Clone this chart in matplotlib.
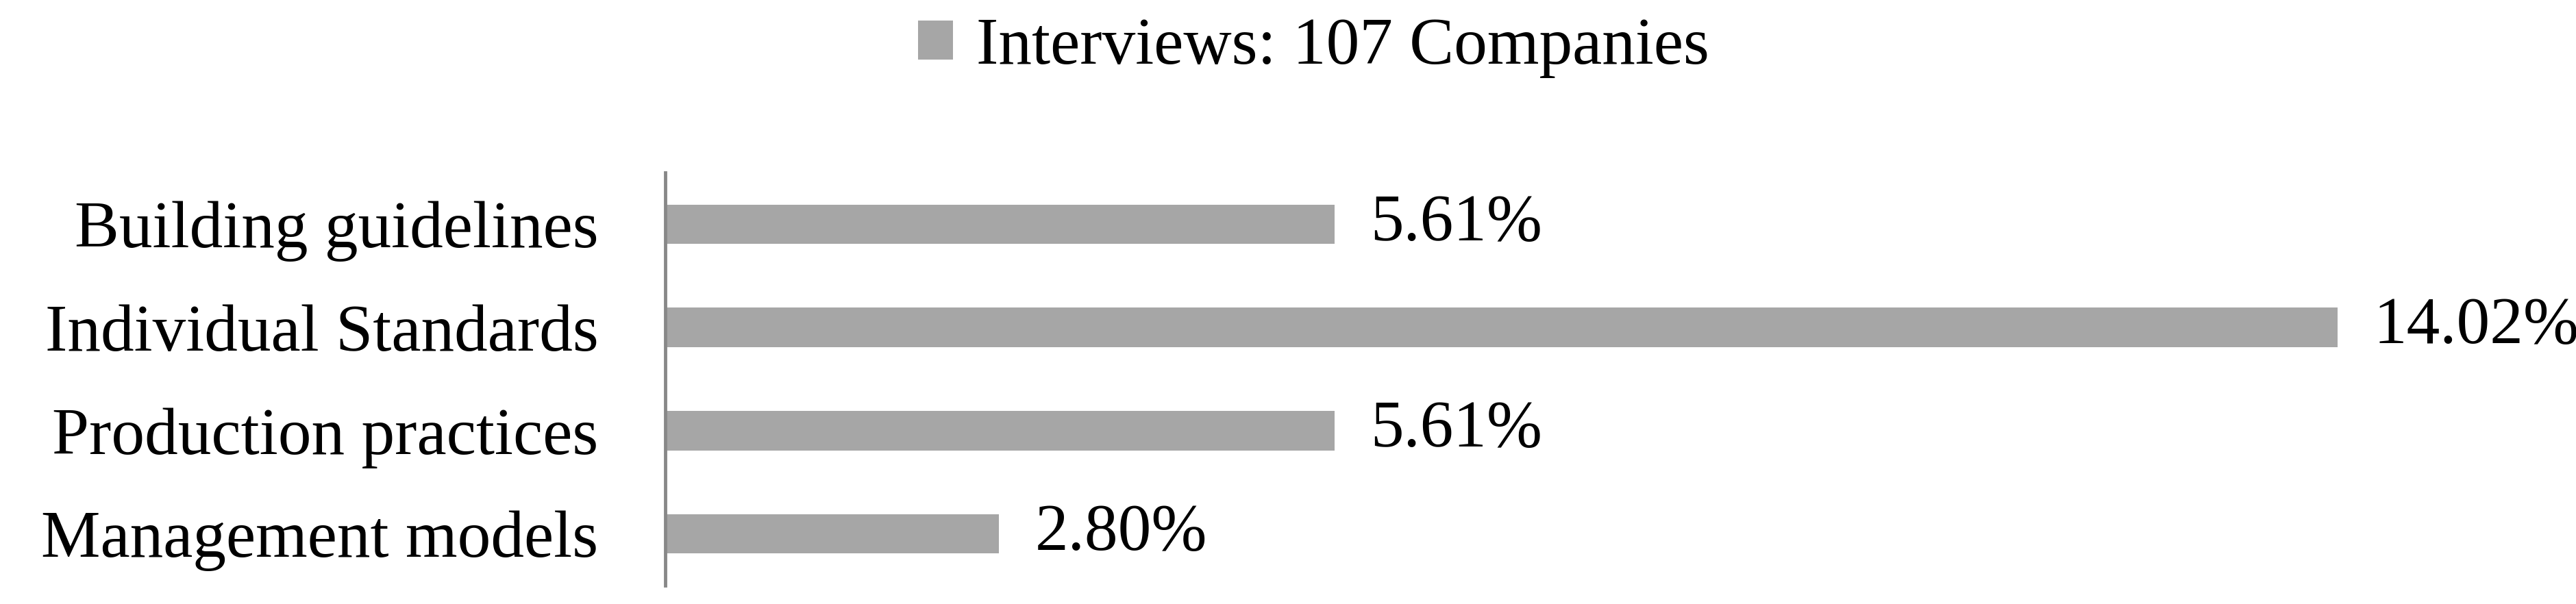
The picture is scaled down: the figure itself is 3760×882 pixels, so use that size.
import matplotlib
matplotlib.use("Agg")
import matplotlib.pyplot as plt

categories = ["Building guidelines", "Individual Standards", "Production practices", "Management models"]
values = [5.61, 14.02, 5.61, 2.80]
series_name = "Interviews: 107 Companies"

plt.rcParams["font.family"] = ["Liberation Serif", "DejaVu Serif"]
FS = 70
BAR = "#a6a6a6"

fig = plt.figure(figsize=(37.6, 8.82), dpi=100)
ax = fig.add_axes([0.2582, 0.0306, 0.931 - 0.2582, 0.6837])

y = list(range(len(categories)))
bars = ax.barh(y, values, height=0.38, color=BAR, label=series_name)
for v, yi in zip(values, y):
    ax.annotate(f"{v:.2f}%", (v, yi), xytext=(38, 0), textcoords="offset points",
                ha="left", va="center", fontsize=FS, color="black")

ax.set_ylim(3.5, -0.5)
ax.set_xlim(0, 14.53)
ax.set_yticks(y)
ax.set_yticklabels(categories, fontsize=FS)
ax.tick_params(axis="y", length=0, pad=70)
ax.set_xticks([])
for s in ["top", "right", "bottom"]:
    ax.spines[s].set_visible(False)
ax.spines["left"].set_color("#888888")
ax.spines["left"].set_linewidth(3.5)

# legend sits at the very top, above the plot area
fig.legend(handles=[bars], labels=[series_name], loc="upper center",
           bbox_to_anchor=(0.51, 1.07), frameon=False, fontsize=FS,
           handlelength=0.52, handleheight=0.52, handletextpad=0.35)

fig.savefig("out.png", dpi=100)
